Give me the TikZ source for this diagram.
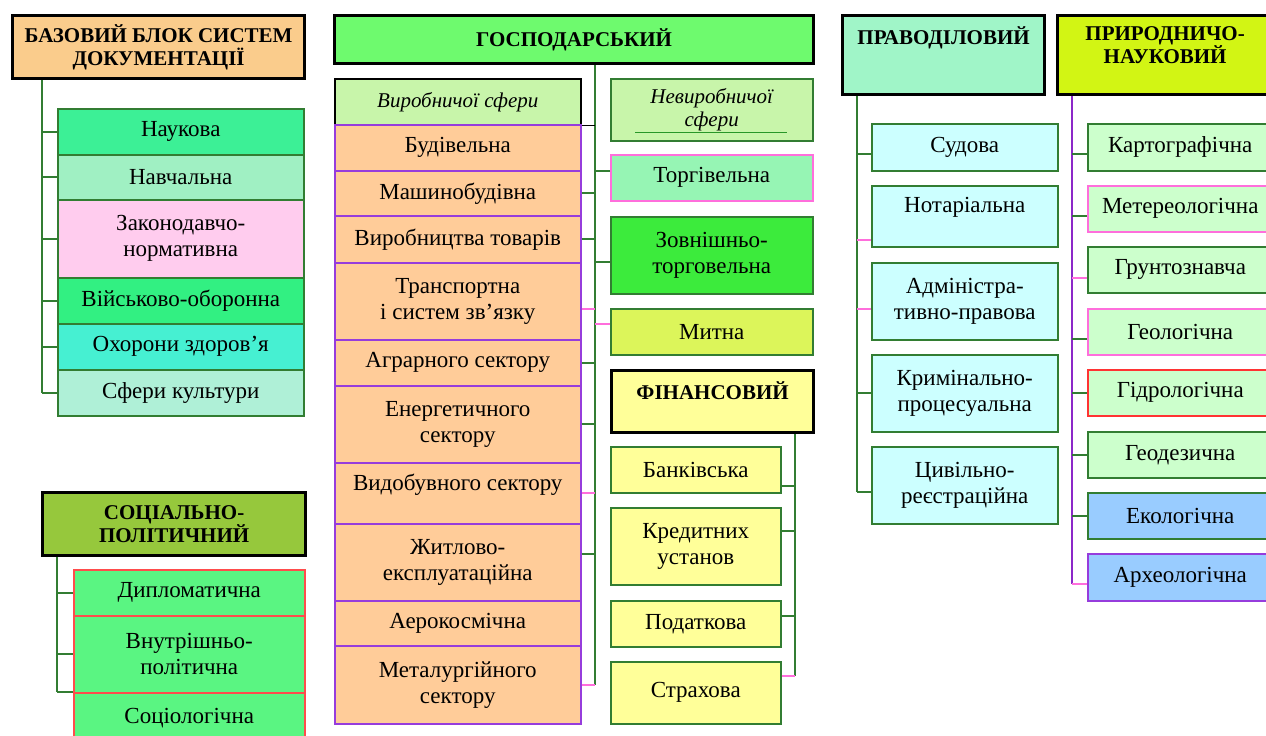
\documentclass[tikz,border=0pt]{standalone}
\usepackage{fontspec}
\setmainfont{Liberation Serif}
\usetikzlibrary{%
  positioning% wg. " of "
}
\definecolor{bazcol}{RGB}{250,204,140}
\definecolor{naukcol}{RGB}{60,240,150}
\definecolor{navchcol}{RGB}{160,240,195}
\definecolor{zakoncol}{RGB}{255,204,238}
\definecolor{viyskcol}{RGB}{50,240,130}
\definecolor{ohorcol}{RGB}{70,240,210}
\definecolor{sfercol}{RGB}{175,240,215}
\definecolor{soccol}{RGB}{150,200,60}
\definecolor{socbox}{RGB}{90,245,130}
\definecolor{gospcol}{RGB}{110,250,110}
\definecolor{sferacol}{RGB}{200,245,170}
\definecolor{orangecol}{RGB}{255,204,153}
\definecolor{torhcol}{RGB}{150,245,180}
\definecolor{zovncol}{RGB}{60,235,60}
\definecolor{mytnacol}{RGB}{220,245,90}
\definecolor{fincol}{RGB}{255,255,153}
\definecolor{pravcol}{RGB}{160,245,200}
\definecolor{pravbox}{RGB}{204,255,255}
\definecolor{prirodcol}{RGB}{210,245,20}
\definecolor{prirodbox}{RGB}{204,255,204}
\definecolor{bluecol}{RGB}{153,204,255}
\definecolor{stemgreen}{RGB}{50,125,50}
\definecolor{stempurple}{RGB}{140,40,200}
\definecolor{linepurple}{RGB}{150,60,220}
\definecolor{linepink}{RGB}{255,110,220}

\begin{document}
\begin{tikzpicture}[x=0.5pt,y=-0.5pt]
 \begin{scope}[box/.style={draw=stemgreen,line width=0.75pt,rectangle,inner sep=1pt,align=center,anchor=north west,font=\fontsize{11.5}{13}\selectfont},
   head/.style={box,draw=black,line width=1.6pt,font=\bfseries\fontsize{10.5}{11.5}\selectfont},
   headtext/.style={inner sep=0pt,align=center,font=\bfseries\fontsize{10.5}{11.5}\selectfont},
   boxtext/.style={inner sep=0pt,align=center,font=\fontsize{11.5}{13}\selectfont},
   orbox/.style={box,draw=linepurple,fill=orangecol,minimum width=123pt},
   stem/.style={draw=stemgreen,line width=0.9pt}]
   \useasboundingbox (0,0) rectangle (1266,735);
   %Stammlinien
   \coordinate (bazx) at (42,0);
   \coordinate (socx) at (57,0);
   \coordinate (gospx) at (595,0);
   \coordinate (finx) at (795,0);
   \coordinate (pravx) at (857,0);
   \coordinate (prirx) at (1072,0);

   %Basisblock
   \node[head,fill=bazcol,minimum width=146pt,minimum height=31.5pt] (baz) at (11,14) {БАЗОВИЙ БЛОК СИСТЕМ\\ДОКУМЕНТАЦІЇ};
   \node[box,fill=naukcol,minimum width=123pt,minimum height=23pt] (nauk) at (57,108) {Наукова};
   \node[box,fill=navchcol,minimum width=123pt,minimum height=22.5pt] (navch) at (57,154) {Навчальна};
   \node[box,fill=zakoncol,minimum width=123pt,minimum height=39pt] (zakon) at (57,199) {Законодавчо-\\нормативна};
   \node[box,fill=viyskcol,minimum width=123pt,minimum height=23pt] (viysk) at (57,277) {Військово-оборонна};
   \node[box,fill=ohorcol,minimum width=123pt,minimum height=23pt] (ohor) at (57,323) {Охорони здоров’я};
   \node[box,fill=sfercol,minimum width=123pt,minimum height=23pt] (sfer) at (57,369) {Сфери культури};
   \draw[stem] (baz.south -| bazx) -- (sfer.west -| bazx);
   \draw[stem] (nauk.west) -- (nauk.west -| bazx);
   \draw[stem] (navch.west) -- (navch.west -| bazx);
   \draw[stem] (zakon.west) -- (zakon.west -| bazx);
   \draw[stem] (viysk.west) -- (viysk.west -| bazx);
   \draw[stem] (ohor.west) -- (ohor.west -| bazx);
   \draw[stem] (sfer.west) -- (sfer.west -| bazx);

   %sozial-politisch
   \node[head,fill=soccol,minimum width=131.5pt,minimum height=31.5pt] (soc) at (41,491) {СОЦІАЛЬНО-\\ПОЛІТИЧНИЙ};
   \node[box,draw=red!70,fill=socbox,minimum width=115.5pt,minimum height=23pt] (dipl) at (73,569) {Дипломатична};
   \node[box,draw=red!70,fill=socbox,minimum width=115.5pt,minimum height=38.5pt] (vnutr) at (73,615) {Внутрішньо-\\політична};
   \node[box,draw=red!70,fill=socbox,minimum width=115.5pt,minimum height=25pt] (sociol) at (73,692) {Соціологічна};
   \draw[stem] (soc.south -| socx) -- (sociol.north west -| socx);
   \draw[stem] (dipl.west) -- (dipl.west -| socx);
   \draw[stem] (vnutr.west) -- (vnutr.west -| socx);
   \draw[stem] (sociol.north west) -- (sociol.north west -| socx);

   %Wirtschaft
   \node[head,fill=gospcol,minimum width=239.5pt,minimum height=24pt] (gosp) at (333,14) {ГОСПОДАРСЬКИЙ};
   \node[box,draw=black,fill=sferacol,minimum width=123pt,minimum height=23pt,font=\itshape\fontsize{10.5}{12}\selectfont] (vyrob) at (334,78) {Виробничої сфери};
   \node[orbox,minimum height=23pt] (bud) at (334,124) {Будівельна};
   \node[orbox,minimum height=22.5pt] (mash) at (334,170) {Машинобудівна};
   \node[orbox,minimum height=23.5pt] (tovar) at (334,215) {Виробництва товарів};
   \node[orbox,minimum height=38.5pt] (trans) at (334,262) {Транспортна\\і систем зв’язку};
   \node[orbox,minimum height=23pt] (agrar) at (334,339) {Аграрного сектору};
   \node[orbox,minimum height=38.5pt] (energ) at (334,385) {Енергетичного\\сектору};
   \node[orbox,minimum height=30.5pt] (vydob) at (334,462) {};
   \node[boxtext,below=6pt of vydob.north] (vydobtext) {Видобувного сектору};
   \node[orbox,minimum height=38.5pt] (zhytl) at (334,523) {Житлово-\\експлуатаційна};
   \node[orbox,minimum height=22.5pt] (aero) at (334,600) {Аерокосмічна};
   \node[orbox,minimum height=39pt] (metal) at (334,645) {Металургійного\\сектору};

   \node[box,fill=sferacol,minimum width=101pt,minimum height=31pt,font=\itshape\fontsize{10.5}{11.5}\selectfont] (nevyrob) at (610,78) {Невиробничої\\сфери};
   \draw[stemgreen!80!green] ([xshift=12.5pt,yshift=4.5pt]nevyrob.south west) -- ([xshift=-13.5pt,yshift=4.5pt]nevyrob.south east);
   \node[box,draw=linepink,fill=torhcol,minimum width=101pt,minimum height=23pt] (torh) at (610,154) {Торгівельна};
   \node[box,fill=zovncol,minimum width=101pt,minimum height=38.5pt] (zovn) at (610,216) {Зовнішньо-\\торговельна};
   \node[box,fill=mytnacol,minimum width=101pt,minimum height=23pt] (mytna) at (610,308) {Митна};

   \draw[stem] (gosp.south -| gospx) -- (metal.east -| gospx);
   \draw[draw=black,line width=0.9pt] (vyrob.south east) -- (vyrob.south east -| gospx);
   \draw[stem] (mash.east) -- (mash.east -| gospx);
   \draw[stem] (tovar.east) -- (tovar.east -| gospx);
   \draw[draw=linepink,line width=1.2pt] ([yshift=-4pt]trans.east) -- ([yshift=-4pt]trans.east -| gospx);
   \draw[stem] (agrar.east) -- (agrar.east -| gospx);
   \draw[stem] (energ.east) -- (energ.east -| gospx);
   \draw[draw=linepink,line width=0.9pt] (vydob.east) -- (vydob.east -| gospx);
   \draw[stem] ([yshift=4pt]zhytl.east) -- ([yshift=4pt]zhytl.east -| gospx);
   \draw[draw=linepink,line width=1.2pt] (metal.east) -- (metal.east -| gospx);
   \draw[stem] ([yshift=3.5pt]torh.west) -- ([yshift=3.5pt]torh.west -| gospx);
   \draw[stem] ([yshift=-3.5pt]zovn.west) -- ([yshift=-3.5pt]zovn.west -| gospx);
   \draw[draw=linepink,line width=1.2pt] ([yshift=4pt]mytna.west) -- ([yshift=4pt]mytna.west -| gospx);

   %Finanzen
   \node[head,fill=fincol,minimum width=101pt,minimum height=31pt] (fin) at (610,369) {};
   \node[headtext,below=6pt of fin.north] (fintext) {ФІНАНСОВИЙ};
   \node[box,fill=fincol,minimum width=85pt,minimum height=23pt] (bank) at (610,446) {Банківська};
   \node[box,fill=fincol,minimum width=85pt,minimum height=38.5pt] (kred) at (610,507) {Кредитних\\установ};
   \node[box,fill=fincol,minimum width=85pt,minimum height=23pt] (podat) at (610,600) {Податкова};
   \node[box,fill=fincol,minimum width=85pt,minimum height=31pt] (strah) at (610,661) {Страхова};
   \draw[stem] (fin.south -| finx) -- ([yshift=-7.5pt]strah.north east -| finx);
   \draw[stem] ([yshift=-8pt]bank.east) -- ([yshift=-8pt]bank.east -| finx);
   \draw[stem] ([yshift=7.5pt]kred.east) -- ([yshift=7.5pt]kred.east -| finx);
   \draw[stem] ([yshift=4pt]podat.east) -- ([yshift=4pt]podat.east -| finx);
   \draw[draw=linepink,line width=1.2pt] ([yshift=-7.5pt]strah.north east) -- ([yshift=-7.5pt]strah.north east -| finx);

   %Recht
   \node[head,fill=pravcol,minimum width=101pt,minimum height=39.5pt] (prav) at (841,14) {};
   \node[headtext,below=6pt of prav.north] (pravtext) {ПРАВОДІЛОВИЙ};
   \node[box,fill=pravbox,minimum width=93pt,minimum height=23.5pt] (sud) at (871,123) {Судова};
   \node[box,fill=pravbox,minimum width=93pt,minimum height=30.5pt] (notar) at (871,185) {};
   \node[boxtext,below=6pt of notar.north] (notartext) {Нотаріальна};
   \node[box,fill=pravbox,minimum width=93pt,minimum height=38.5pt] (admin) at (871,262) {Адміністра-\\тивно-правова};
   \node[box,fill=pravbox,minimum width=93pt,minimum height=38.5pt] (krim) at (871,354) {Кримінально-\\процесуальна};
   \node[box,fill=pravbox,minimum width=93pt,minimum height=38.5pt] (tsyv) at (871,446) {Цивільно-\\реєстраційна};
   \draw[stem] (prav.south -| pravx) -- ([yshift=-3.5pt]tsyv.west -| pravx);
   \draw[stem] ([yshift=-3.5pt]sud.west) -- ([yshift=-3.5pt]sud.west -| pravx);
   \draw[draw=linepink,line width=0.9pt] ([yshift=-12pt]notar.west) -- ([yshift=-12pt]notar.west -| pravx);
   \draw[draw=linepink,line width=1.2pt] ([yshift=-4pt]admin.west) -- ([yshift=-4pt]admin.west -| pravx);
   \draw[stem] (krim.west) -- (krim.west -| pravx);
   \draw[stem] ([yshift=-3.5pt]tsyv.west) -- ([yshift=-3.5pt]tsyv.west -| pravx);

   %Natur
   \node[head,fill=prirodcol,minimum width=107.5pt,minimum height=39.5pt] (prirod) at (1056,14) {};
   \node[headtext,below=6pt of prirod.north] (prirodtext) {ПРИРОДНИЧО-\\НАУКОВИЙ};
   \node[box,fill=prirodbox,minimum width=92.5pt,minimum height=23.5pt] (kart) at (1087,123) {Картографічна};
   \node[box,draw=linepink,fill=prirodbox,minimum width=92.5pt,minimum height=23pt] (meteo) at (1087,185) {Метереологічна};
   \node[box,fill=prirodbox,minimum width=92.5pt,minimum height=23pt] (grunt) at (1087,246) {Грунтознавча};
   \node[box,draw=linepink,fill=prirodbox,minimum width=92.5pt,minimum height=23pt] (geol) at (1087,308) {Геологічна};
   \node[box,draw=red!80,fill=prirodbox,minimum width=92.5pt,minimum height=23pt] (hidro) at (1087,369) {Гідрологічна};
   \node[box,fill=prirodbox,minimum width=92.5pt,minimum height=23pt] (geod) at (1087,431) {Геодезична};
   \node[box,fill=bluecol,minimum width=92.5pt,minimum height=23pt] (ekol) at (1087,492) {Екологічна};
   \node[box,draw=linepurple,fill=bluecol,minimum width=92.5pt,minimum height=23.5pt] (arkh) at (1087,553) {Археологічна};
   \draw[draw=stempurple,line width=0.9pt] (prirod.south -| prirx) -- ([yshift=-3.5pt]arkh.west -| prirx);
   \draw[stem] ([yshift=-3.5pt]kart.west) -- ([yshift=-3.5pt]kart.west -| prirx);
   \draw[stem] ([yshift=-3.5pt]meteo.west) -- ([yshift=-3.5pt]meteo.west -| prirx);
   \draw[draw=linepink,line width=1.2pt] ([yshift=-4pt]grunt.west) -- ([yshift=-4pt]grunt.west -| prirx);
   \draw[stem] ([yshift=-3.5pt]geol.west) -- ([yshift=-3.5pt]geol.west -| prirx);
   \draw[stem] (hidro.west) -- (hidro.west -| prirx);
   \draw[stem] (geod.west) -- (geod.west -| prirx);
   \draw[stem] (ekol.west) -- (ekol.west -| prirx);
   \draw[draw=linepink,line width=1.2pt] ([yshift=-3.5pt]arkh.west) -- ([yshift=-3.5pt]arkh.west -| prirx);
 \end{scope}
\end{tikzpicture}
\end{document}
